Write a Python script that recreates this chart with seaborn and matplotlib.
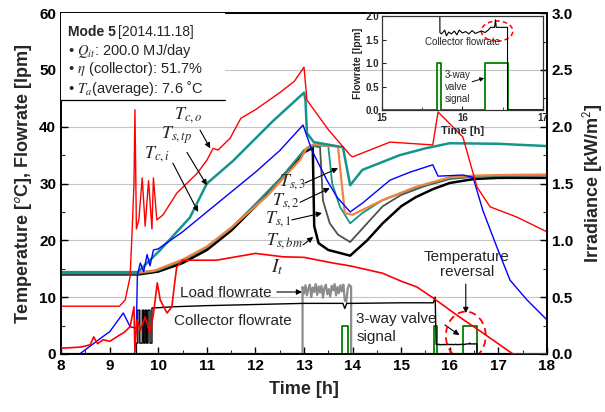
import numpy as np
import pandas as pd
import seaborn as sns
import matplotlib
matplotlib.use("Agg")
import matplotlib.pyplot as plt
from matplotlib.patches import Ellipse, Rectangle
from matplotlib.lines import Line2D
from matplotlib.ticker import MultipleLocator

# ---- data (time in h) ----
tco_t = [8.0, 9.2, 9.32, 9.42, 9.46, 9.5, 9.52, 9.55, 9.6, 9.67, 9.73, 9.8, 9.87, 9.9, 9.97,
         10.1, 10.38, 10.8, 11.0, 11.13, 11.23, 11.48, 11.7, 12.0, 12.5, 12.8, 13.0, 13.06,
         13.5, 13.95, 14.0, 14.77, 15.65, 15.76, 16.27, 16.56, 16.83, 17.38, 18.0]
tco_v = [8.4, 8.4, 9.5, 13.6, 21.3, 30.0, 43.0, 22.0, 23.6, 31.0, 22.5, 30.5, 22.0, 31.0, 23.6,
         24.5, 28.3, 31.8, 34.1, 36.2, 35.9, 38.0, 41.5, 43.0, 46.0, 48.0, 50.5, 44.7,
         39.5, 35.0, 34.7, 37.3, 36.8, 42.6, 38.2, 29.4, 25.9, 24.1, 21.5]

tci_t = [8.3, 8.43, 8.9, 9.0, 9.28, 9.42, 9.55, 9.57, 9.63, 9.7, 9.77, 9.83, 9.9, 10.0, 10.5,
         11.0, 11.5, 12.0, 12.5, 12.98, 13.16, 13.47, 13.68, 13.95, 14.21, 14.77, 15.18,
         15.65, 15.76, 16.27, 16.48, 16.68, 16.97, 17.24, 17.59, 18.0]
tci_v = [-0.5, 0.3, 3.3, 3.9, 7.2, 4.8, 4.5, 13.9, 16.0, 14.5, 17.5, 15.5, 18.3, 18.5, 21.5,
         25.0, 28.5, 32.0, 35.8, 40.3, 35.9, 30.6, 27.6, 25.0, 26.6, 30.6, 32.0,
         33.3, 31.3, 31.5, 31.1, 25.3, 18.8, 13.0, 9.5, 6.0]

tstp_t = [8.0, 9.58, 10.04, 10.65, 11.0, 11.54, 12.36, 13.0, 13.03, 13.06, 13.2, 13.8, 13.95,
          14.2, 14.97, 15.5, 16.0, 17.0, 18.0]
tstp_v = [14.4, 14.4, 18.3, 24.0, 30.0, 34.0, 41.0, 46.0, 44.7, 38.9, 37.3, 36.4, 29.7,
          32.4, 35.0, 36.2, 37.1, 37.0, 36.6]

ts3_t = [8.0, 9.6, 9.9, 10.5, 11.0, 11.54, 12.24, 12.92, 13.06, 13.2, 13.7, 13.74, 13.84,
         14.0, 14.62, 15.3, 16.0, 16.5, 17.0, 18.0]
ts3_v = [14.4, 14.4, 14.6, 16.6, 18.9, 22.5, 27.8, 34.2, 36.3, 36.9, 36.5, 33.0, 24.8,
         24.5, 27.1, 29.4, 31.1, 31.4, 31.5, 31.6]

ts2_t = [8.0, 9.6, 10.0, 10.5, 11.0, 11.5, 12.0, 12.5, 13.0, 13.2, 13.5, 13.58, 13.74, 13.95,
         14.2, 14.6, 15.0, 15.5, 16.0, 17.0, 18.0]
ts2_v = [14.3, 14.3, 14.8, 16.5, 18.8, 22.2, 26.3, 30.6, 35.9, 36.7, 36.6, 30.0, 25.9, 23.0,
         24.8, 27.0, 28.3, 29.8, 31.0, 31.4, 31.5]

ts1_t = [8.0, 9.6, 10.0, 10.5, 11.0, 11.5, 12.0, 12.5, 13.0, 13.2, 13.33, 13.39, 13.53, 13.7,
         13.95, 14.3, 14.62, 15.0, 15.5, 16.0, 16.5, 17.0, 18.0]
ts1_v = [14.1, 14.1, 14.7, 16.4, 18.7, 22.1, 26.4, 30.8, 35.8, 36.6, 36.4, 27.0, 23.0, 21.0,
         19.7, 23.0, 26.0, 28.0, 29.6, 30.8, 31.2, 31.3, 31.4]

tsbm_t = [8.0, 9.6, 10.0, 10.5, 11.0, 11.5, 12.0, 12.5, 13.0, 13.18, 13.21, 13.3, 13.5, 13.95,
          14.3, 14.62, 15.0, 15.3, 15.65, 16.0, 16.5, 17.0, 17.5, 18.0]
tsbm_v = [14.0, 14.0, 14.5, 16.0, 18.3, 21.7, 26.0, 30.5, 35.5, 36.3, 22.5, 19.5, 18.3, 17.3,
          20.0, 23.0, 26.0, 27.6, 29.0, 30.1, 30.8, 31.0, 31.0, 31.0]

# irradiance, kW/m2
it_t = [8.0, 8.4, 8.6, 8.67, 8.75, 8.87, 9.0, 9.2, 9.3, 9.42, 9.5, 9.52, 9.56, 9.63, 9.73,
        9.83, 9.9, 9.98, 10.04, 10.18, 10.28, 10.33, 10.38, 10.5, 11.2, 12.0, 12.57, 13.0,
        13.6, 13.95, 14.62, 15.0, 15.32, 15.65, 16.2, 16.68, 17.18, 17.3, 18.0]
it_v = [0.05, 0.06, 0.08, 0.15, 0.09, 0.125, 0.11, 0.165, 0.19, 0.24, 0.415, 0.02, 0.3, 0.21,
        0.325, 0.185, 0.35, 0.625, 0.475, 0.36, 0.415, 0.6, 0.765, 0.825, 0.825, 0.885, 0.855,
        0.85, 0.8, 0.775, 0.71, 0.64, 0.59, 0.495, 0.325, 0.185, 0.035, 0.0, 0.0]

# collector flowrate, lpm
coll_t = [8.0, 9.55, 9.55, 9.58, 9.58, 9.62, 9.62, 9.67, 9.67, 9.7, 9.7, 9.73, 9.73, 9.76,
          9.76, 9.79, 9.79, 9.83, 9.83, 9.87, 9.87, 9.93, 10.3, 11.0, 12.0, 13.0, 13.8, 13.84,
          13.88, 14.0, 15.0, 15.66, 15.7, 15.72, 15.74, 15.78, 15.8, 15.83, 15.86, 15.9, 15.93,
          15.96, 16.0, 16.04, 16.08, 16.12, 16.16, 16.2, 16.24, 16.28, 16.32, 16.35, 16.4,
          16.41, 16.42, 16.45, 16.5, 16.56, 16.56, 18.0]
coll_q = [0, 0, 1.9, 1.9, 7.7, 7.7, 1.9, 1.9, 7.7, 7.7, 1.9, 1.9, 7.7, 7.7,
          1.9, 1.9, 7.7, 7.7, 1.9, 1.9, 8.1, 8.1, 8.3, 8.5, 8.7, 8.9, 8.9, 8.0,
          8.9, 8.9, 9.0, 9.0, 10.0, 1.65, 1.62, 1.7, 1.58, 1.66, 1.62, 1.68, 1.6,
          1.7, 1.64, 1.67, 1.62, 1.69, 1.63, 1.66, 1.68, 1.65, 1.7, 1.76, 1.76,
          1.92, 1.76, 1.76, 1.76, 1.76, 0, 0]

load_t = [8.0, 12.97, 12.97, 13.0, 13.03, 13.06, 13.09, 13.12, 13.15, 13.18, 13.21, 13.24,
          13.27, 13.3, 13.33, 13.36, 13.39, 13.42, 13.45, 13.48, 13.51, 13.54, 13.57, 13.6,
          13.63, 13.66, 13.69, 13.72, 13.75, 13.78, 13.81, 13.84, 13.87, 13.9, 13.93, 13.97,
          13.97, 18.0]
load_q = [0, 0, 11.8, 10.6, 12.1, 10.3, 11.5, 12.2, 10.0, 11.7, 10.9, 12.3,
          10.4, 11.9, 10.8, 12.0, 9.9, 11.6, 12.2, 10.5, 11.4, 10.1, 12.0, 11.2,
          12.3, 10.3, 11.8, 10.7, 12.1, 11.0, 12.2, 9.4, 9.2, 11.5, 12.2, 11.8,
          0, 0]

valve_t = [8.0, 13.78, 13.78, 13.9, 13.9, 15.68, 15.68, 15.73, 15.73, 16.28, 16.28, 16.56,
           16.56, 18.0]
valve_s = [0, 0, 1, 1, 0, 0, 1, 1, 0, 0, 1, 1, 0, 0]

RED, BLUE, TEAL, ORANGE = "#ff0000", "#0000ff", "#15958a", "#f4823f"
GREEN = "#008000"

sns.set_theme(style="ticks")
plt.rcParams["font.family"] = ["Liberation Sans", "DejaVu Sans"]
plt.rcParams["mathtext.fontset"] = "stix"
plt.rcParams["xtick.direction"] = "in"
plt.rcParams["ytick.direction"] = "in"


def line(ax, t, v, **kw):
    sns.lineplot(x=t, y=v, ax=ax, estimator=None, sort=False, legend=False, **kw)


fig = plt.figure(figsize=(6.05, 4.12), dpi=100)
ax = fig.add_axes([0.101, 0.141, 0.803, 0.827])
ax2 = ax.twinx()

line(ax, valve_t, np.array(valve_s) * 5, color=GREEN, lw=1.3, zorder=3)
line(ax, load_t, load_q, color="#8c8c8c", lw=1.6, zorder=2)
line(ax, coll_t, coll_q, color="black", lw=1.0, zorder=4)
line(ax, tsbm_t, tsbm_v, color="black", lw=1.8, zorder=5)
line(ax, ts1_t, ts1_v, color="#505050", lw=1.3, zorder=5)
line(ax, ts2_t, ts2_v, color=TEAL, lw=1.3, zorder=6)
line(ax, ts3_t, ts3_v, color=ORANGE, lw=1.6, zorder=7)
line(ax, tstp_t, tstp_v, color=TEAL, lw=1.8, zorder=7)
line(ax, tci_t, tci_v, color=BLUE, lw=1.0, zorder=8)
line(ax, tco_t, tco_v, color=RED, lw=1.0, zorder=8)
line(ax2, it_t, it_v, color=RED, lw=1.2, zorder=3)

ax.set_xlim(8, 18)
ax.set_ylim(0, 60)
ax2.set_ylim(0, 3)
ax.xaxis.set_major_locator(MultipleLocator(1))
ax.xaxis.set_minor_locator(MultipleLocator(0.5))
ax.yaxis.set_major_locator(MultipleLocator(10))
ax.yaxis.set_minor_locator(MultipleLocator(5))
ax2.yaxis.set_major_locator(MultipleLocator(0.5))
ax2.yaxis.set_minor_locator(MultipleLocator(0.25))
ax2.yaxis.set_major_formatter(matplotlib.ticker.FormatStrFormatter("%.1f"))
ax.yaxis.grid(True, color="#c4c4c4", lw=0.8)
ax.set_axisbelow(True)
for a in (ax, ax2):
    a.tick_params(which="major", length=5, width=1, labelsize=11, colors="black")
    a.tick_params(which="minor", length=3, width=0.8)
    for s in a.spines.values():
        s.set_color("black")
        s.set_linewidth(1.2)
ax2.tick_params(axis="y", which="both", direction="in")
for lab in ax.get_xticklabels() + ax.get_yticklabels() + ax2.get_yticklabels():
    lab.set_fontweight("bold")

ax.set_xlabel("Time [h]", fontsize=13, fontweight="bold", labelpad=6)
ax.set_ylabel(r"Temperature [$^\mathsf{o}$C], Flowrate [lpm]", fontsize=13,
              fontweight="bold", labelpad=4)
ax2.set_ylabel(r"Irradiance [kW/m$^\mathsf{2}$]", fontsize=13, fontweight="bold", labelpad=6)

# info box
ax2.add_patch(Rectangle((0, 0.745), 0.337, 0.255, transform=ax2.transAxes,
                        facecolor="white", edgecolor="none", zorder=10))
ax2.add_line(Line2D([0, 0.337], [0.745, 0.745], transform=ax2.transAxes,
                    color="black", lw=0.9, zorder=11))
ax2.text(0.014, 0.944, "Mode 5", transform=ax2.transAxes, fontsize=10,
         fontweight="bold", va="center", zorder=12)
ax2.text(0.118, 0.944, "[2014.11.18]", transform=ax2.transAxes, fontsize=10,
         va="center", zorder=12)
info = [r"• $Q_{it}$: 200.0 MJ/day", r"• $\eta$ (collector): 51.7%",
        r"• $T_a$(average): 7.6 ˚C"]
for ypos, s in zip([0.889, 0.836, 0.778], info):
    ax2.text(0.014, ypos, s, transform=ax2.transAxes, fontsize=10.5, va="center", zorder=12)

arr = dict(arrowstyle="-|>", color="black", lw=0.8, mutation_scale=8, shrinkA=0, shrinkB=0)
tlabels = [
    (r"$T_{c,o}$", (10.62, 42.0), (10.86, 39.4), (11.07, 36.2)),
    (r"$T_{s,tp}$", (10.38, 38.6), (10.59, 35.5), (11.0, 29.7)),
    (r"$T_{c,i}$", (9.98, 35.2), (10.3, 33.6), (10.82, 25.0)),
    (r"$T_{s,3}$", (12.77, 30.3), (13.02, 30.1), (13.7, 32.7)),
    (r"$T_{s,2}$", (12.63, 26.9), (12.92, 26.7), (13.53, 29.2)),
    (r"$T_{s,1}$", (12.47, 23.8), (12.75, 23.6), (13.37, 24.8)),
    (r"$T_{s,bm}$", (12.6, 19.9), (12.98, 19.2), (13.19, 20.6)),
]
for txt, pos, a0, a1 in tlabels:
    ax.text(pos[0], pos[1], txt, fontsize=13, ha="center", va="center", zorder=12)
    ax.annotate("", xy=a1, xytext=a0, arrowprops=arr, zorder=12)
ax.text(12.45, 15.2, r"$I_t$", fontsize=14, ha="center", va="center", zorder=12)

ax.text(10.45, 10.8, "Load flowrate", fontsize=11, va="center", zorder=12)
ax.annotate("", xy=(12.96, 10.9), xytext=(12.44, 10.9), arrowprops=arr, zorder=12)
ax.text(10.33, 5.8, "Collector flowrate", fontsize=11, va="center", zorder=12)
ax.text(14.08, 6.2, "3-way valve", fontsize=11, va="center", zorder=12)
ax.text(14.08, 3.0, "signal", fontsize=11, va="center", zorder=12)
ax.annotate("", xy=(16.2, 3.3), xytext=(15.9, 5.1), arrowprops=arr, zorder=12)
ax.text(16.35, 17.1, "Temperature", fontsize=11, ha="center", va="center", zorder=12)
ax.text(16.35, 14.4, "reversal", fontsize=11, ha="center", va="center", zorder=12)
ax.annotate("", xy=(16.33, 7.2), xytext=(16.33, 12.3), arrowprops=arr, zorder=12)
ax.add_patch(Ellipse((16.33, 3.2), 0.82, 8.5, fill=False, edgecolor=RED, lw=1.3,
                     ls=(0, (4, 2.5)), zorder=12))

# inset
axi = fig.add_axes([0.6314, 0.733, 0.266, 0.228])
axi.patch.set_alpha(0)
line(axi, valve_t, valve_s, color=GREEN, lw=1.3)
line(axi, coll_t, coll_q, color="black", lw=0.8)
axi.set_xlim(15, 17)
axi.set_ylim(0, 2)
axi.xaxis.set_major_locator(MultipleLocator(1))
axi.xaxis.set_minor_locator(MultipleLocator(0.5))
axi.yaxis.set_major_locator(MultipleLocator(0.5))
axi.yaxis.set_major_formatter(matplotlib.ticker.FormatStrFormatter("%.1f"))
axi.tick_params(which="major", length=3, width=0.8, labelsize=7, pad=2)
axi.tick_params(which="minor", length=2, width=0.6)
for s in axi.spines.values():
    s.set_color("#333333")
    s.set_linewidth(0.9)
for lab in axi.get_xticklabels() + axi.get_yticklabels():
    lab.set_fontweight("bold")
axi.set_xlabel("Time [h]", fontsize=8, fontweight="bold", labelpad=2)
axi.set_ylabel("Flowrate [lpm]", fontsize=7.5, fontweight="bold", labelpad=2)
axi.text(16.0, 1.45, "Collector flowrate", fontsize=7, ha="center", va="center")
for ypos, s in zip([0.74, 0.48, 0.23], ["3-way", "valve", "signal"]):
    axi.text(15.78, ypos, s, fontsize=7, va="center")
axi.annotate("", xy=(16.27, 0.68), xytext=(16.12, 0.6),
             arrowprops=dict(arrowstyle="-|>", color="black", lw=0.7, mutation_scale=6,
                             shrinkA=0, shrinkB=0))
axi.add_patch(Ellipse((16.43, 1.68), 0.39, 0.43, fill=False, edgecolor=RED, lw=1.1,
                      ls=(0, (3, 2))))

fig.savefig("out.png", dpi=100)
